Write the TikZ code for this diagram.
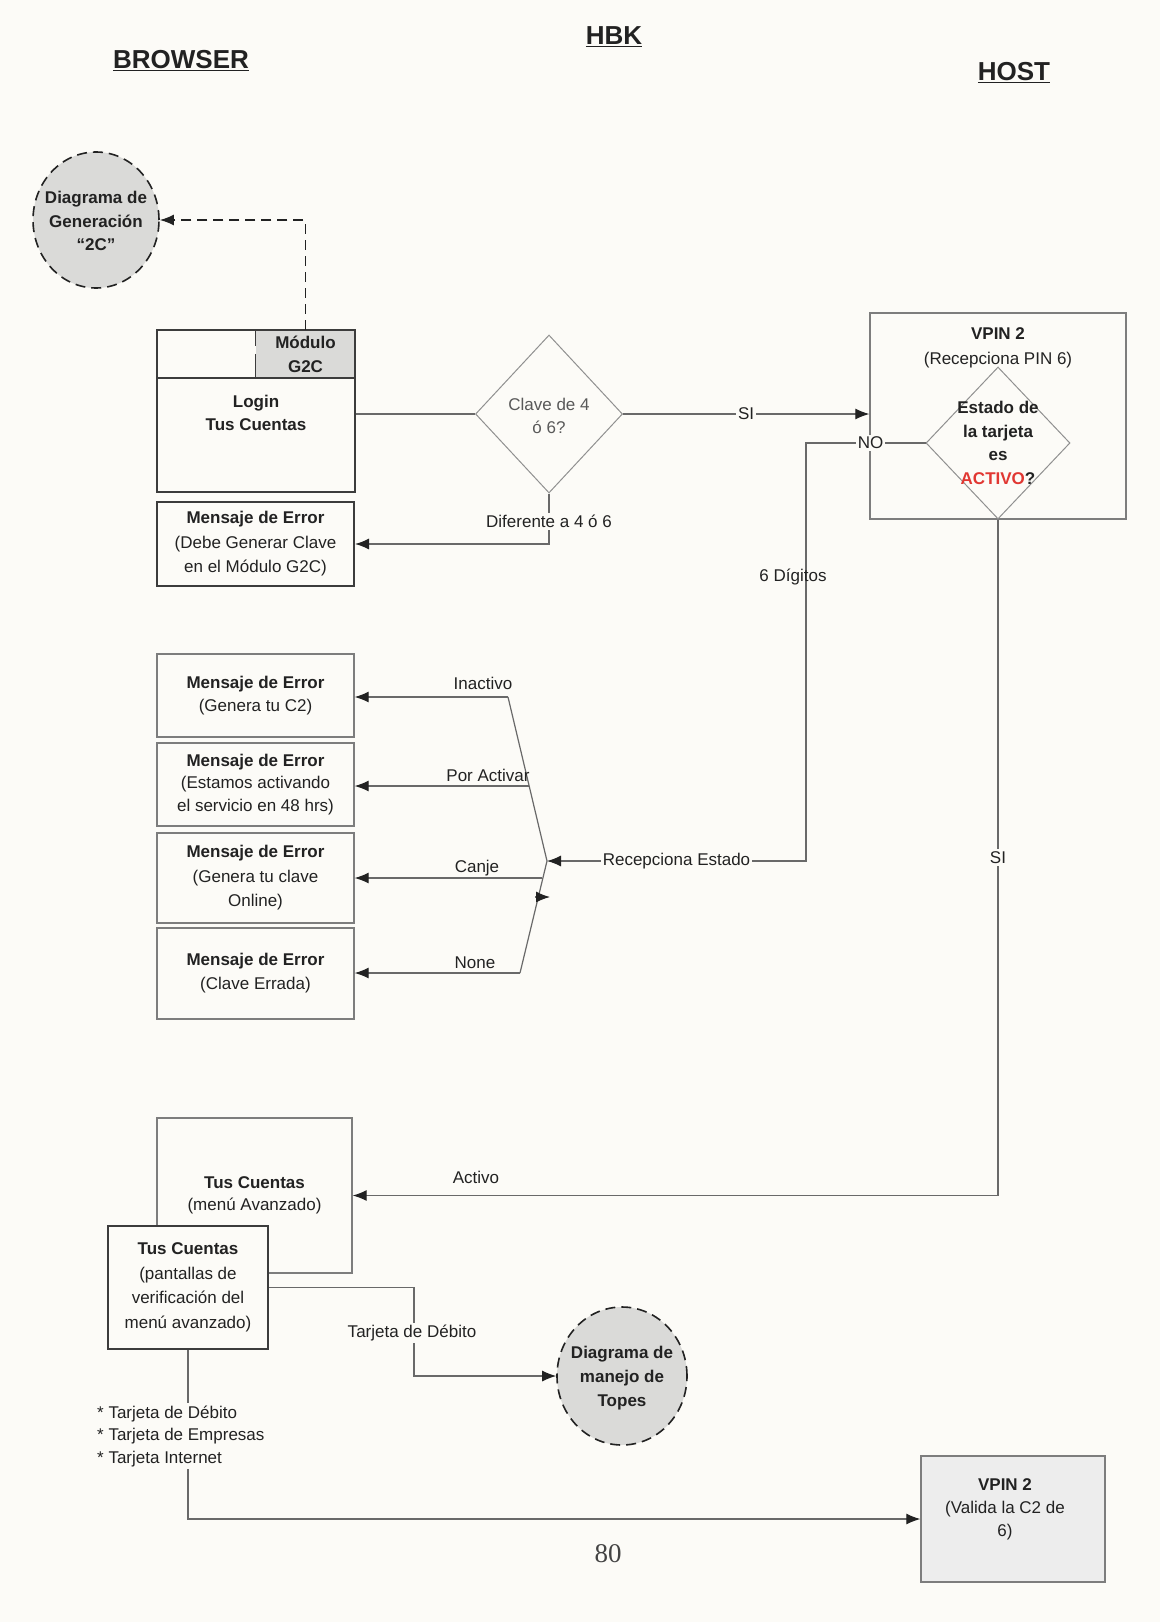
\documentclass[tikz,border=0pt]{standalone}
\usepackage{fontspec}
\setmainfont{Liberation Sans}
\newfontfamily\pagefont{Liberation Serif}
\usetikzlibrary{arrows.meta,shapes.geometric}
\definecolor{bg}{RGB}{252,251,247}
\definecolor{ink}{RGB}{34,34,34}
\definecolor{linec}{RGB}{105,105,105}
\definecolor{boxc}{RGB}{125,125,125}
\definecolor{darkc}{RGB}{60,60,60}
\definecolor{shade}{RGB}{218,218,216}
\definecolor{actred}{RGB}{225,55,50}
\begin{document}
\begin{tikzpicture}[x=1pt,y=-1pt,
  txt/.style={font=\fontsize{17}{23.5}\selectfont, text=ink, align=center, inner sep=1pt},
  btxt/.style={txt, font=\fontsize{17}{23.5}\selectfont\bfseries},
  lab/.style={txt, fill=bg, inner sep=2pt},
  boxst/.style={draw=boxc, line width=1.3pt, fill=bg, txt, inner sep=0pt},
  darkbox/.style={boxst, draw=darkc, line width=2pt},
  dia/.style={diamond, draw=boxc!85, line width=1pt, inner sep=0pt},
  blob/.style={ellipse, draw=ink, dash pattern=on 10pt off 6pt, line width=1.6pt, fill=shade, inner sep=0pt},
  conn/.style={draw=linec, line width=1.2pt},
  arr/.style={conn, -{Latex[length=14pt,width=11pt,color=ink,fill=ink]}},
  title/.style={font=\fontsize{26}{30}\selectfont\bfseries, text=ink, inner sep=0pt},
]
\useasboundingbox (0,0) rectangle (1160,1622);
\fill[bg] (0,0) rectangle (1160,1622);

% titles
\node[title] (browser) at (181,61) {\underline{BROWSER}};
\node[title] (hbk) at (614,37) {\underline{HBK}};
\node[title] (host) at (1014,73) {\underline{HOST}};

% generation blob
\node[blob, minimum width=126pt, minimum height=136pt] (gen) at (96,220) {};
\node[btxt] (gentxt) at (96,221) {Diagrama de\\Generación\\``2C''};

% login box with module header
\node[fill=shade, minimum width=99pt, minimum height=48pt, inner sep=0pt, btxt, font=\fontsize{17}{24}\selectfont\bfseries] (modg2c) at (305.5,354) {Módulo\\G2C};
\node[draw=darkc, line width=2pt, minimum width=198pt, minimum height=162pt] (login) at (256,411) {};
\draw[draw=darkc, line width=1.6pt] (login.west |- modg2c.south) -- (modg2c.south east);
\draw[draw=darkc, line width=1.3pt, dash pattern=on 16pt off 8pt on 30pt off 0pt] (modg2c.north west) -- (modg2c.south west);
\node[btxt] (logintxt) at (256,413) {Login\\Tus Cuentas};

\draw[draw=ink, line width=1.6pt, dash pattern=on 10pt off 6pt, -{Latex[length=14pt,width=11pt]}] (modg2c.north) |- (gen.east);

% error for key
\node[darkbox, minimum width=197pt, minimum height=84pt, font=\fontsize{17}{24.5}\selectfont] (err0) at (255.5,544) {\textbf{Mensaje de Error}\\(Debe Generar Clave\\en el Módulo G2C)};

% clave diamond
\node[dia, minimum width=147pt, minimum height=158pt] (clave) at (549,414) {};
\node[txt, text=ink!75] (clavetxt) at (549,416) {Clave de 4\\ó 6?};

\draw[conn] (login.east |- clave.west) -- (clave.west);
\draw[arr] (clave.south) |- node[lab, pos=0.28] (ldif) {Diferente a 4 ó 6} (err0.east);

% VPIN box
\node[boxst, minimum width=256pt, minimum height=206pt] (vpin) at (998,416) {};
\node[txt, font=\fontsize{17}{25}\selectfont] (vpintitle) at (998,348) {\textbf{VPIN 2}\\(Recepciona PIN 6)};
\node[dia, minimum width=144pt, minimum height=152pt] (estado) at (998,443) {};
\node[btxt] (estadotxt) at (998,443) {Estado de\\la tarjeta\\es\\\textcolor{actred}{ACTIVO}?};

\draw[arr] (clave.east) -- node[lab] (lsi1) {SI} (clave.east -| vpin.west);

% fan of states
\coordinate (fanTop) at (508,697);
\coordinate (fanMid) at (547,861);
\coordinate (fanBot) at (520,973);
\coordinate (fanPor) at (529,786);
\coordinate (fanCan) at (542,878);
\coordinate (noTurn) at (806,443);
\draw[conn] (fanTop) -- (fanMid) -- (fanBot);

\draw[arr] (estado.west) -- node[lab, pos=0.46] (lno) {NO} (noTurn) -- (noTurn |- fanMid) -- node[lab, pos=0.5] (lrec) {Recepciona Estado} (fanMid);
\node[txt] (l6) at (793,577) {6 Dígitos};

% error boxes
\node[boxst, minimum width=197pt, minimum height=83pt] (err1) at (255.5,695.5) {\textbf{Mensaje de Error}\\(Genera tu C2)};
\node[boxst, minimum width=197pt, minimum height=83pt, font=\fontsize{17}{22.5}\selectfont] (err2) at (255.5,784.5) {\textbf{Mensaje de Error}\\(Estamos activando\\el servicio en 48 hrs)};
\node[boxst, minimum width=197pt, minimum height=90pt, font=\fontsize{17}{24.5}\selectfont] (err3) at (255.5,878) {\textbf{Mensaje de Error}\\(Genera tu clave\\Online)};
\node[boxst, minimum width=197pt, minimum height=91pt, font=\fontsize{17}{24}\selectfont] (err4) at (255.5,973.5) {\textbf{Mensaje de Error}\\(Clave Errada)};

\draw[arr] (fanTop) -- (fanTop -| err1.east);
\draw[arr] (fanPor) -- (fanPor -| err2.east);
\draw[arr] (fanCan) -- (fanCan -| err3.east);
\draw[arr] (fanBot) -- (fanBot -| err4.east);
\node[txt] (linact) at (483,683) {Inactivo};
\node[txt] (lpor) at (488,775) {Por Activar};
\node[txt] (lcanje) at (477,868) {Canje};
\node[txt] (lnone) at (475,963) {None};

\coordinate (xa) at (535,897);
\coordinate (xb) at (550,897);
\draw[arr] (xa) -- (xb);

% advanced menu
\node[boxst, minimum width=195pt, minimum height=155pt, font=\fontsize{17}{21.5}\selectfont] (menu) at (254.5,1195.5) {\textbf{Tus Cuentas}\\(menú Avanzado)};
\draw[arr] (estado.south) -- node[lab] (lsi2) {SI} (estado.south |- menu.east) -- (menu.east);
\node[txt] (lact) at (476,1177) {Activo};

\node[darkbox, minimum width=160pt, minimum height=123pt, font=\fontsize{17}{24.5}\selectfont] (verif) at (188,1287.5) {\textbf{Tus Cuentas}\\(pantallas de\\verificación del\\menú avanzado)};

% topes blob
\node[blob, minimum width=130pt, minimum height=138pt] (topes) at (622,1376) {};
\node[btxt, font=\fontsize{17}{24}\selectfont\bfseries] (topestxt) at (622,1378) {Diagrama de\\manejo de\\Topes};

\coordinate (tdTurn) at (414,1330);
\draw[arr] (verif.east) -| (tdTurn) |- (topes.west);
\node[lab] (ltd) at (412,1333) {Tarjeta de Débito};

% VPIN 2 validation
\node[boxst, fill=gray!14, minimum width=184pt, minimum height=126pt] (vpin2) at (1013,1519) {};
\node[txt, font=\fontsize{17}{23}\selectfont] (vpin2txt) at (1005,1509) {\textbf{VPIN 2}\\(Valida la C2 de\\6)};

\draw[arr] (verif.south) |- (vpin2.west);
\node[txt, fill=bg, align=left, anchor=west, inner sep=2pt, font=\fontsize{17}{22.5}\selectfont] (cards) at (95,1436) {* Tarjeta de Débito\\* Tarjeta de Empresas\\* Tarjeta Internet};

\node[font=\pagefont\fontsize{27}{30}\selectfont, text=ink!85] (pnum) at (608,1554) {80};
\end{tikzpicture}
\end{document}
